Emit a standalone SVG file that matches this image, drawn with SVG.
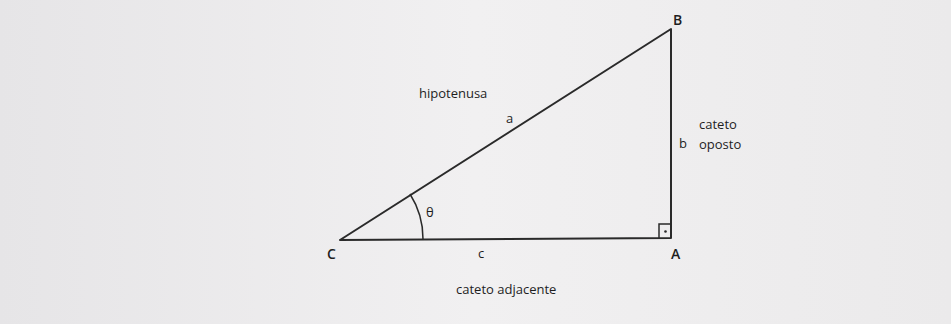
<svg xmlns="http://www.w3.org/2000/svg" width="951" height="324" viewBox="0 0 951 324">
<defs>
<linearGradient id="bg" x1="0" y1="0" x2="1" y2="0">
<stop offset="0" stop-color="#e6e5e7"/>
<stop offset="0.5" stop-color="#f1f0f1"/>
<stop offset="1" stop-color="#ebeaeb"/>
</linearGradient>
<style>
.ln{fill:none;stroke:#2a2a2a;stroke-width:2;stroke-linecap:round;stroke-linejoin:round}
.thin{fill:none;stroke:#2a2a2a;stroke-width:1.5}
.t{font-family:"Open Sans","Liberation Sans",sans-serif;font-size:13px;fill:#1e1e1e}
.v{font-family:"Open Sans","Liberation Sans",sans-serif;font-size:14px;font-weight:600;fill:#1e1e1e}
</style>
</defs>
<rect width="951" height="324" fill="url(#bg)"/>
<g id="connectors">
<path class="ln" d="M340,240 L671,29 L671,238 L340,240"/>
<path class="thin" d="M659,238 L659,224 L671,224"/>
<circle cx="665.5" cy="231.5" r="1.3" fill="#2a2a2a"/>
<path class="thin" d="M410,194 A83,83 0 0 1 423,239"/>
</g>
<g id="vertex-C"><text class="v" x="327" y="259">C</text></g>
<g id="vertex-B"><text class="v" x="673" y="25">B</text></g>
<g id="vertex-A"><text class="v" x="671" y="259">A</text></g>
<g id="label-hipotenusa"><text class="t" x="419" y="98">hipotenusa</text></g>
<g id="label-a"><text class="t" x="506" y="123">a</text></g>
<g id="label-b"><text class="t" x="679" y="148">b</text></g>
<g id="label-cateto-oposto"><text class="t" x="699" y="129">cateto</text><text class="t" x="699" y="149">oposto</text></g>
<g id="label-c"><text class="t" x="478" y="258">c</text></g>
<g id="label-theta"><text class="t" x="426" y="217">θ</text></g>
<g id="label-cateto-adjacente"><text class="t" x="456" y="294">cateto adjacente</text></g>
</svg>
